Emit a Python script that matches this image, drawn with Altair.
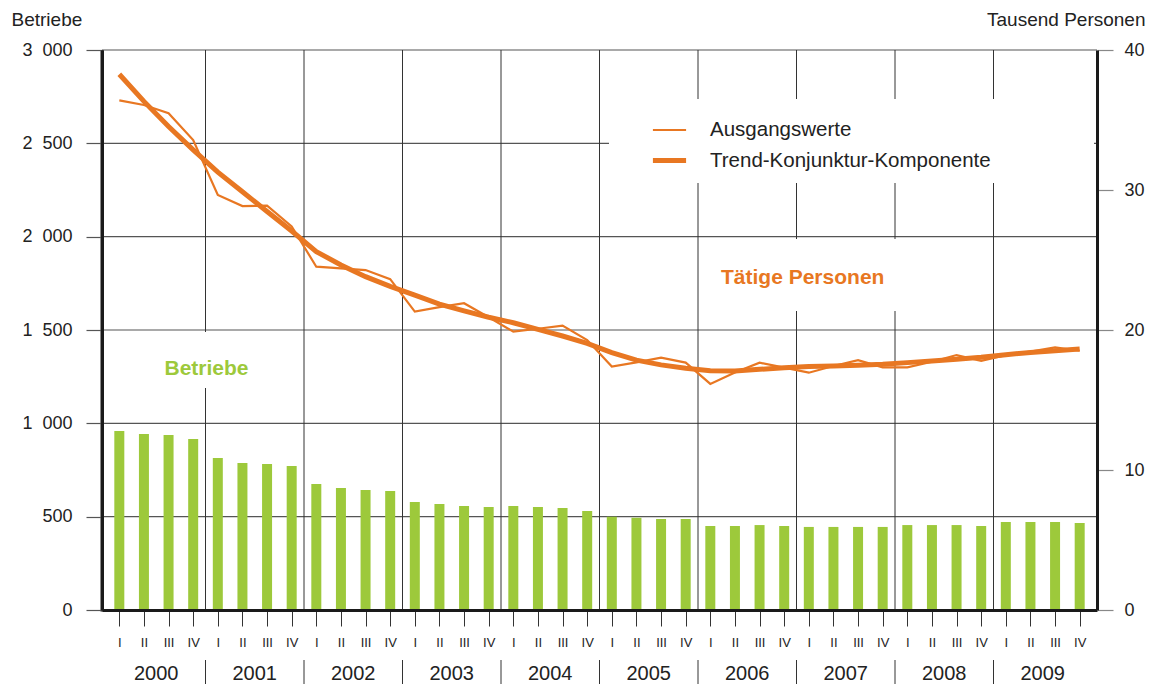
import altair as alt
import pandas as pd

ORANGE = "#E87722"
GREEN = "#9DC93B"
FONT = "Liberation Sans"

years = [str(y) for y in range(2000, 2010)]
quarters = ["I", "II", "III", "IV"]

# Betriebe (left axis)
betriebe = [
    959, 943, 937, 916,
    814, 787, 782, 771,
    675, 654, 643, 637,
    579, 568, 557, 552,
    557, 552, 546, 530,
    500, 494, 487, 487,
    450, 450, 455, 450,
    445, 445, 445, 445,
    455, 455, 455, 450,
    471, 471, 471, 466,
]

# Tätige Personen, Tausend (right axis)
ausgangswerte = [
    36.40, 36.07, 35.48, 33.57,
    29.64, 28.85, 28.88, 27.40,
    24.52, 24.40, 24.28, 23.63,
    21.31, 21.63, 21.91, 20.91,
    19.88, 20.09, 20.31, 19.28,
    17.39, 17.69, 18.03, 17.67,
    16.15, 16.96, 17.67, 17.31,
    16.95, 17.43, 17.85, 17.33,
    17.33, 17.73, 18.21, 17.79,
    18.21, 18.45, 18.76, 18.52,
]
trend = [
    38.27, 36.33, 34.53, 32.87,
    31.27, 29.87, 28.47, 27.07,
    25.60, 24.64, 23.81, 23.12,
    22.49, 21.85, 21.36, 20.91,
    20.52, 20.05, 19.57, 19.05,
    18.39, 17.85, 17.51, 17.27,
    17.09, 17.07, 17.19, 17.31,
    17.39, 17.43, 17.48, 17.55,
    17.67, 17.79, 17.91, 18.05,
    18.24, 18.39, 18.52, 18.64,
]
series_names = ["Ausgangswerte", "Trend-Konjunktur-Komponente"]

left_ticks = [0, 500, 1000, 1500, 2000, 2500, 3000]
right_ticks = [0, 10, 20, 30, 40]

n = len(betriebe)
idx = list(range(n))
bars_df = pd.DataFrame({"idx": idx, "betriebe": betriebe})
lines_df = pd.DataFrame({
    "idx": idx + idx,
    "series": [series_names[0]] * n + [series_names[1]] * n,
    "value": ausgangswerte + trend,
})
year_df = pd.DataFrame({"year": years, "mid": [4 * i + 1.5 for i in range(len(years))]})
bound_df = pd.DataFrame({"b": [4 * i + 3.5 for i in range(len(years) - 1)]})
grid_df = pd.DataFrame({"g": left_ticks})
one = pd.DataFrame({"k": [0]})

W, H = 995, 560

xscale = alt.Scale(domain=[-0.5, n - 0.5], nice=False, zero=False)
yleft = alt.Scale(domain=[0, 3000], nice=False, zero=True)
yright = alt.Scale(domain=[0, 40], nice=False, zero=True)

x_axis = alt.Axis(
    values=idx,
    labelExpr="['I','II','III','IV'][datum.value % 4]",
    domain=True, ticks=True, labels=True,
    tickSize=16, tickColor="#333333", tickWidth=1,
    domainColor="#1a1a1a", domainWidth=3,
    labelFontSize=13, labelPadding=10, labelColor="#222222",
    labelFlush=False, labelOverlap=False,
    title=None, grid=False, zindex=1, orient="bottom",
)

left_axis = alt.Axis(
    values=left_ticks,
    labelExpr="replace(format(datum.value, ','), ',', '\u2007')",
    domain=True, ticks=True, labels=True,
    tickSize=16, tickColor="#555555", tickWidth=1.2,
    domainColor="#1a1a1a", domainWidth=3,
    labelFontSize=18, labelPadding=14, labelColor="#222222",
    labelFlush=False,
    grid=False, zindex=1, orient="left",
    title="Betriebe", titleAngle=0, titleX=-91, titleY=-31,
    titleAlign="left", titleBaseline="middle",
    titleFontSize=19, titleFontWeight="normal", titleColor="#222222",
)

right_axis = alt.Axis(
    values=right_ticks, format="d",
    domain=True, ticks=True, labels=True,
    tickSize=16, tickColor="#888888", tickWidth=1.2,
    domainColor="#1a1a1a", domainWidth=3,
    labelFontSize=18, labelPadding=11, labelColor="#222222",
    labelFlush=False,
    grid=False, zindex=1, orient="right",
    title="Tausend Personen", titleAngle=0, titleX=48, titleY=-31,
    titleAlign="right", titleBaseline="middle",
    titleFontSize=19, titleFontWeight="normal", titleColor="#222222",
)

hgrid = alt.Chart(grid_df).mark_rule(color="#555555", strokeWidth=1.2).encode(
    y=alt.Y("g:Q", scale=yleft, axis=left_axis),
    x=alt.value(0), x2=alt.value(W),
)

vgrid = alt.Chart(bound_df).mark_rule(color="#333333", strokeWidth=1).encode(
    x=alt.X("b:Q", scale=xscale, axis=x_axis),
    y=alt.value(0), y2=alt.value(H),
)

year_sep = alt.Chart(bound_df).mark_rule(color="#333333", strokeWidth=1).encode(
    x=alt.X("b:Q", scale=xscale, axis=x_axis),
    y=alt.value(H + 50), y2=alt.value(H + 76),
)

mask_legend = alt.Chart(one).mark_rect(color="white").encode(
    x=alt.value(507), x2=alt.value(992), y=alt.value(49), y2=alt.value(133)
)
mask_tp = alt.Chart(one).mark_rect(color="white").encode(
    x=alt.value(603), x2=alt.value(888), y=alt.value(189), y2=alt.value(261)
)
mask_b = alt.Chart(one).mark_rect(color="white").encode(
    x=alt.value(48), x2=alt.value(160), y=alt.value(282), y2=alt.value(338)
)

bars = alt.Chart(bars_df).mark_bar(color=GREEN, size=10).encode(
    x=alt.X("idx:Q", scale=xscale, axis=x_axis),
    y=alt.Y("betriebe:Q", scale=yleft, axis=left_axis),
)

# left axis line, drawn as a thin dark rect spanning the plot height
left_line = alt.Chart(one).mark_rect(color="#1a1a1a").encode(
    x=alt.value(-1.5), x2=alt.value(1.5), y=alt.value(0), y2=alt.value(H + 1.5)
)

year_text = alt.Chart(year_df).mark_text(
    fontSize=20, color="#222222", baseline="middle", align="center", font=FONT
).encode(
    x=alt.X("mid:Q", scale=xscale, axis=x_axis),
    y=alt.value(H + 64),
    text="year:N",
)

label_b = alt.Chart(one).mark_text(
    text="Betriebe", fontSize=21, fontWeight="bold", color=GREEN,
    align="center", baseline="alphabetic", font=FONT,
).encode(x=alt.value(104.5), y=alt.value(325))

label_tp = alt.Chart(one).mark_text(
    text="Tätige Personen", fontSize=21, fontWeight="bold", color=ORANGE,
    align="center", baseline="alphabetic", font=FONT,
).encode(x=alt.value(700.7), y=alt.value(234))

lines = alt.Chart(lines_df).mark_line(color=ORANGE).encode(
    x=alt.X("idx:Q", scale=xscale, axis=x_axis),
    y=alt.Y("value:Q", scale=yright, axis=right_axis),
    strokeWidth=alt.StrokeWidth(
        "series:O",
        scale=alt.Scale(domain=series_names, range=[2.2, 5]),
        legend=alt.Legend(
            orient="none", legendX=548, legendY=62, title=None,
            symbolType="stroke", symbolSize=1100, symbolStrokeColor=ORANGE,
            labelFontSize=20.5, labelColor="#222222", labelOffset=21,
            labelFont=FONT, labelLimit=0, rowPadding=0, padding=0,
            direction="vertical",
        ),
    ),
)

left_group = alt.layer(hgrid, vgrid, year_sep, mask_legend, mask_tp, mask_b,
                       bars, year_text, label_b, left_line)
right_group = alt.layer(lines, label_tp)

chart = alt.layer(left_group, right_group).resolve_scale(y="independent").properties(
    width=W, height=H,
    autosize=alt.AutoSizeParams(type="none"),
    padding={"left": 94, "top": 42, "right": 54, "bottom": 74},
).configure(
    font=FONT, background="white"
).configure_view(stroke=None)

chart.save("out.html", embed_options={"renderer": "svg", "actions": False})
